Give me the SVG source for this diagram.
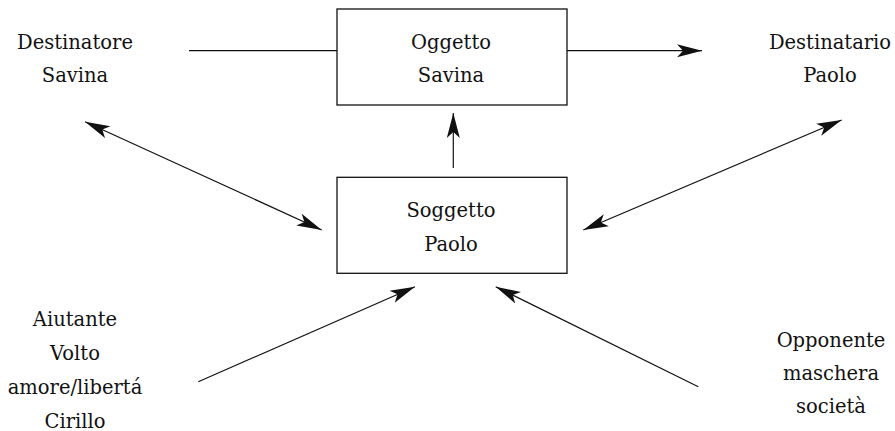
<svg xmlns="http://www.w3.org/2000/svg" width="895" height="431" viewBox="0 0 895 431">
<defs>
<style>
text{font-family:"DejaVu Serif","Liberation Serif",serif;font-size:19.5px;fill:#111;text-anchor:middle}
.box{fill:#fff;stroke:#111;stroke-width:1.3}
.c{fill:none;stroke:#111;stroke-width:1.2}
</style>
<marker id="ah" markerUnits="userSpaceOnUse" markerWidth="27" markerHeight="15" refX="25" refY="7" orient="auto-start-reverse" viewBox="0 0 27 15">
<path d="M0,0.5 L25,7 L0,13.5 L6,7 Z" fill="#111"/>
</marker>
</defs>
<g id="connectors">
<path class="c" d="M189,50.7 L337,50.7"/>
<path class="c" d="M567,50.7 L702,50.7" marker-end="url(#ah)"/>
<path class="c" d="M453.3,168 L453.3,113" marker-end="url(#ah)"/>
<path class="c" d="M85,121.7 L321.7,230" marker-start="url(#ah)" marker-end="url(#ah)"/>
<path class="c" d="M841.7,120 L583.3,230" marker-start="url(#ah)" marker-end="url(#ah)"/>
<path class="c" d="M198.3,381.7 L415,286.7" marker-end="url(#ah)"/>
<path class="c" d="M698.3,386.7 L495.7,286.7" marker-end="url(#ah)"/>
</g>
<g id="destinatore">
<text x="75" y="48.5">Destinatore</text>
<text x="75" y="82">Savina</text>
</g>
<g id="oggetto">
<rect class="box" x="337" y="9" width="230" height="96"/>
<text x="451" y="48.5">Oggetto</text>
<text x="451" y="82">Savina</text>
</g>
<g id="destinatario">
<text x="830" y="48.5">Destinatario</text>
<text x="830" y="82">Paolo</text>
</g>
<g id="soggetto">
<rect class="box" x="337" y="177.3" width="230" height="96"/>
<text x="451" y="217">Soggetto</text>
<text x="451" y="251">Paolo</text>
</g>
<g id="aiutante">
<text x="75" y="326">Aiutante</text>
<text x="75" y="360">Volto</text>
<text x="75" y="394">amore/libertá</text>
<text x="75" y="427.5">Cirillo</text>
</g>
<g id="opponente">
<text x="831" y="347">Opponente</text>
<text x="831" y="380">maschera</text>
<text x="831" y="412.5">società</text>
</g>
</svg>
